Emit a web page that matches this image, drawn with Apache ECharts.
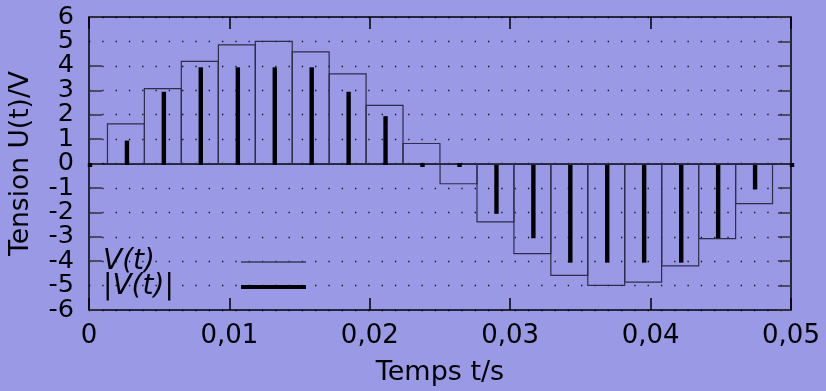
<!DOCTYPE html>
<html>
<head>
<meta charset="utf-8">
<script src="https://cdn.jsdelivr.net/npm/echarts@6/dist/echarts.min.js"></script>
<style>
  html, body { margin: 0; padding: 0; background: #9999e6; }
  #main { width: 826px; height: 391px; }
</style>
</head>
<body>
<div id="main"></div>
<script>
// sample instants (s) and held voltage of each step
var sampleTimes = [0.00263, 0.00526, 0.00789, 0.01053, 0.01316, 0.01579, 0.01842, 0.02105, 0.02368,
  0.02632, 0.02895, 0.03158, 0.03421, 0.03684, 0.03947, 0.04211, 0.04474, 0.04737]
var stepValues = [1.62, 3.07, 4.18, 4.86, 5.0, 4.57, 3.67, 2.38, 0.82,
  -0.83, -2.39, -3.69, -4.58, -4.99, -4.86, -4.19, -3.08, -1.64]
var stepWidth = 0.00263

// quantized samples (thick bars)
var quantTimes = [0, 0.00263, 0.00526, 0.00789, 0.01053, 0.01316, 0.01579, 0.01842, 0.02105, 0.02368,
  0.02632, 0.02895, 0.03158, 0.03421, 0.03684, 0.03947, 0.04211, 0.04474, 0.04737, 0.05]
var quantValues = [0, 1, 3, 4, 4, 4, 4, 3, 2, 0,
  0, -2, -3, -4, -4, -4, -4, -3, -1, 0]

var xTickLabels = ['0', '0,01', '0,02', '0,03', '0,04', '0,05']
var font = 'DejaVu Sans'

var chart = echarts.init(document.getElementById('main'))

function steps(params, api) {
  var t = api.value(0), v = api.value(1)
  var a = api.coord([t - stepWidth / 2, v])
  var b = api.coord([t + stepWidth / 2, 0])
  return {
    type: 'rect',
    shape: { x: a[0], y: Math.min(a[1], b[1]), width: b[0] - a[0], height: Math.abs(b[1] - a[1]) },
    style: { fill: 'none', stroke: '#2e2e48', lineWidth: 1.2 }
  }
}

function bars(params, api) {
  var t = api.value(0), v = api.value(1)
  var p = api.coord([t, v])
  var z = api.coord([t, 0])
  var y0 = z[1] + 1.5, y1 = p[1] + 1.5
  if (Math.abs(y1 - y0) < 4) { y0 = z[1] - 0.5; y1 = z[1] + 3.5 }
  return {
    type: 'rect',
    shape: { x: p[0] - 1.2, y: Math.min(y0, y1), width: 4.4, height: Math.abs(y1 - y0) },
    style: { fill: '#000' }
  }
}

var legendText = { rich: { a: { width: 133, align: 'left', fontStyle: 'italic', fontSize: 28, fontFamily: font, color: '#000', lineHeight: 28 } } }
var yLabelStyle = { fontSize: 25.5, fontFamily: font, color: '#000', margin: 15 }

chart.setOption({
  backgroundColor: '#9999e6',
  animation: false,
  grid: { left: 88, right: 35, top: 17, bottom: 78 },
  legend: [
    {
      data: ['V(t)'], left: 103, top: 248, align: 'right', icon: 'rect',
      itemWidth: 65, itemHeight: 1.5, padding: 0,
      formatter: function (n) { return '{a|' + n + '}' },
      textStyle: legendText
    },
    {
      data: ['|V(t)|'], left: 103, top: 273, align: 'right', icon: 'rect',
      itemWidth: 65, itemHeight: 4, padding: 0,
      formatter: function (n) { return '{a|' + n + '}' },
      textStyle: legendText
    }
  ],
  xAxis: [
    {
      type: 'value', min: 0, max: 0.05, interval: 0.01, position: 'bottom',
      name: 'Temps t/s', nameLocation: 'middle', nameGap: 49,
      nameTextStyle: { fontSize: 27, fontFamily: font, color: '#000' },
      axisLine: { onZero: false, lineStyle: { color: '#000', width: 1.5 } },
      axisTick: { inside: true, length: 12, lineStyle: { color: '#000', width: 1.5 } },
      axisLabel: {
        fontSize: 26, fontFamily: font, color: '#000', margin: 13,
        formatter: function (v) { return xTickLabels[Math.round(v / 0.01)] }
      },
      splitLine: { show: false }
    },
    {
      type: 'value', min: 0, max: 0.05, interval: 0.01, position: 'top',
      axisLine: { onZero: false, lineStyle: { color: '#000', width: 1.5 } },
      axisTick: { inside: true, length: 12, lineStyle: { color: '#000', width: 1.5 } },
      axisLabel: { show: false },
      splitLine: { show: false }
    },
    {
      type: 'value', min: 0, max: 0.05, position: 'bottom',
      axisLine: { onZero: true, lineStyle: { color: '#000', width: 1.5 } },
      axisTick: { show: false },
      axisLabel: { show: false },
      splitLine: { show: false }
    }
  ],
  yAxis: [
    {
      type: 'value', min: -6, max: 6, interval: 1, position: 'left',
      name: 'Tension U(t)/V', nameLocation: 'middle', nameGap: 54,
      nameTextStyle: { fontSize: 26.5, fontFamily: font, color: '#000' },
      axisLine: { onZero: false, lineStyle: { color: '#000', width: 1.5 } },
      axisTick: { inside: true, length: 13, lineStyle: { color: '#333', width: 1.5 } },
      axisLabel: Object.assign({ showMinLabel: true, showMaxLabel: true }, yLabelStyle),
      splitLine: { show: true, lineStyle: { color: '#111', width: 1.3, type: [1.3, 12] } }
    },
    {
      type: 'value', min: -6, max: 6, interval: 1, position: 'right',
      axisLine: { onZero: false, lineStyle: { color: '#000', width: 1.5 } },
      axisTick: { inside: true, length: 13, lineStyle: { color: '#333', width: 1.5 } },
      axisLabel: { show: false },
      splitLine: { show: false }
    },
    {
      // second label layer for the ticks next to the ends (5 and -5)
      type: 'value', min: -6, max: 6, interval: 1, position: 'left',
      axisLine: { show: false }, axisTick: { show: false }, splitLine: { show: false },
      axisLabel: Object.assign({
        showMinLabel: false, showMaxLabel: false,
        formatter: function (v) { return Math.abs(v) === 5 ? String(v) : '' }
      }, yLabelStyle)
    }
  ],
  series: [
    {
      name: 'V(t)', type: 'custom', renderItem: steps,
      itemStyle: { color: '#3a3a55' },
      data: sampleTimes.map(function (t, i) { return [t, stepValues[i]] }),
      z: 3
    },
    {
      name: '|V(t)|', type: 'custom', renderItem: bars,
      itemStyle: { color: '#000' },
      data: quantTimes.map(function (t, i) { return [t, quantValues[i]] }),
      z: 4, clip: false
    }
  ]
})
</script>
</body>
</html>
